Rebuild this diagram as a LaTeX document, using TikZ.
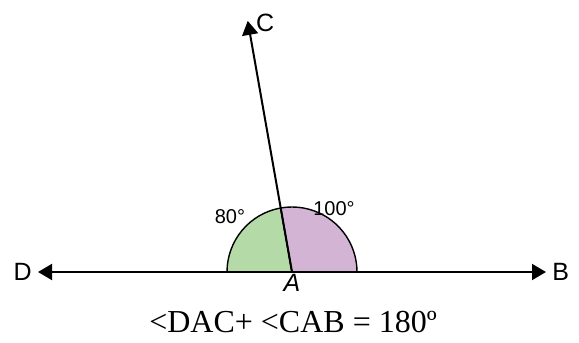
\documentclass[tikz,border=0pt]{standalone}
\usepackage{fontspec}
\setmainfont{Liberation Serif}
\newfontfamily\lblfont{Liberation Sans}
\usetikzlibrary{arrows.meta,positioning,calc}
\definecolor{leafgreen}{RGB}{180,218,168}
\definecolor{lilac}{RGB}{211,180,213}

\tikzset{
  ray/.style={line width=1pt,-{Triangle[length=7pt,width=8pt]}},
  ptlabel/.style={font=\lblfont\fontsize{12.5}{14}\selectfont,inner sep=1pt},
  anglabel/.style={font=\lblfont\fontsize{10}{12}\selectfont,inner sep=1pt}
}

\begin{document}
\begin{tikzpicture}[x=0.5pt,y=0.5pt]
  \useasboundingbox (0,0) rectangle (579,343);
  \coordinate (A) at (292,71);
  \coordinate (D) at (38,71);
  \coordinate (B) at (546,71);
  \coordinate (C) at ($(A)+(100:255)$);
  % the two angle sectors
  \filldraw[fill=leafgreen,draw=black,line width=0.7pt] (A) -- ++(100:32.5pt) arc[start angle=100,end angle=180,radius=32.5pt] -- cycle;
  \filldraw[fill=lilac,draw=black,line width=0.7pt] (A) -- ++(0:32.5pt) arc[start angle=0,end angle=100,radius=32.5pt] -- cycle;
  % rays
  \draw[ray] (A) -- (D);
  \draw[ray] (A) -- (B);
  \draw[ray] (A) -- (C);
  % labels
  \node[ptlabel,left=2pt of D] (lD) {D};
  \node[ptlabel,right=2pt of B] (lB) {B};
  \node[ptlabel,right=3pt of C,yshift=-1pt] (lC) {C};
  \node[ptlabel,below=0pt of A] (lA) {\itshape A};
  \node[anglabel] (a80) at (230,126) {80°};
  \node[anglabel] (a100) at (334,134) {100°};
  \node[font=\fontsize{16}{18}\selectfont] (sum) at (293,21) {<DAC+ <CAB = 180º};
\end{tikzpicture}
\end{document}
